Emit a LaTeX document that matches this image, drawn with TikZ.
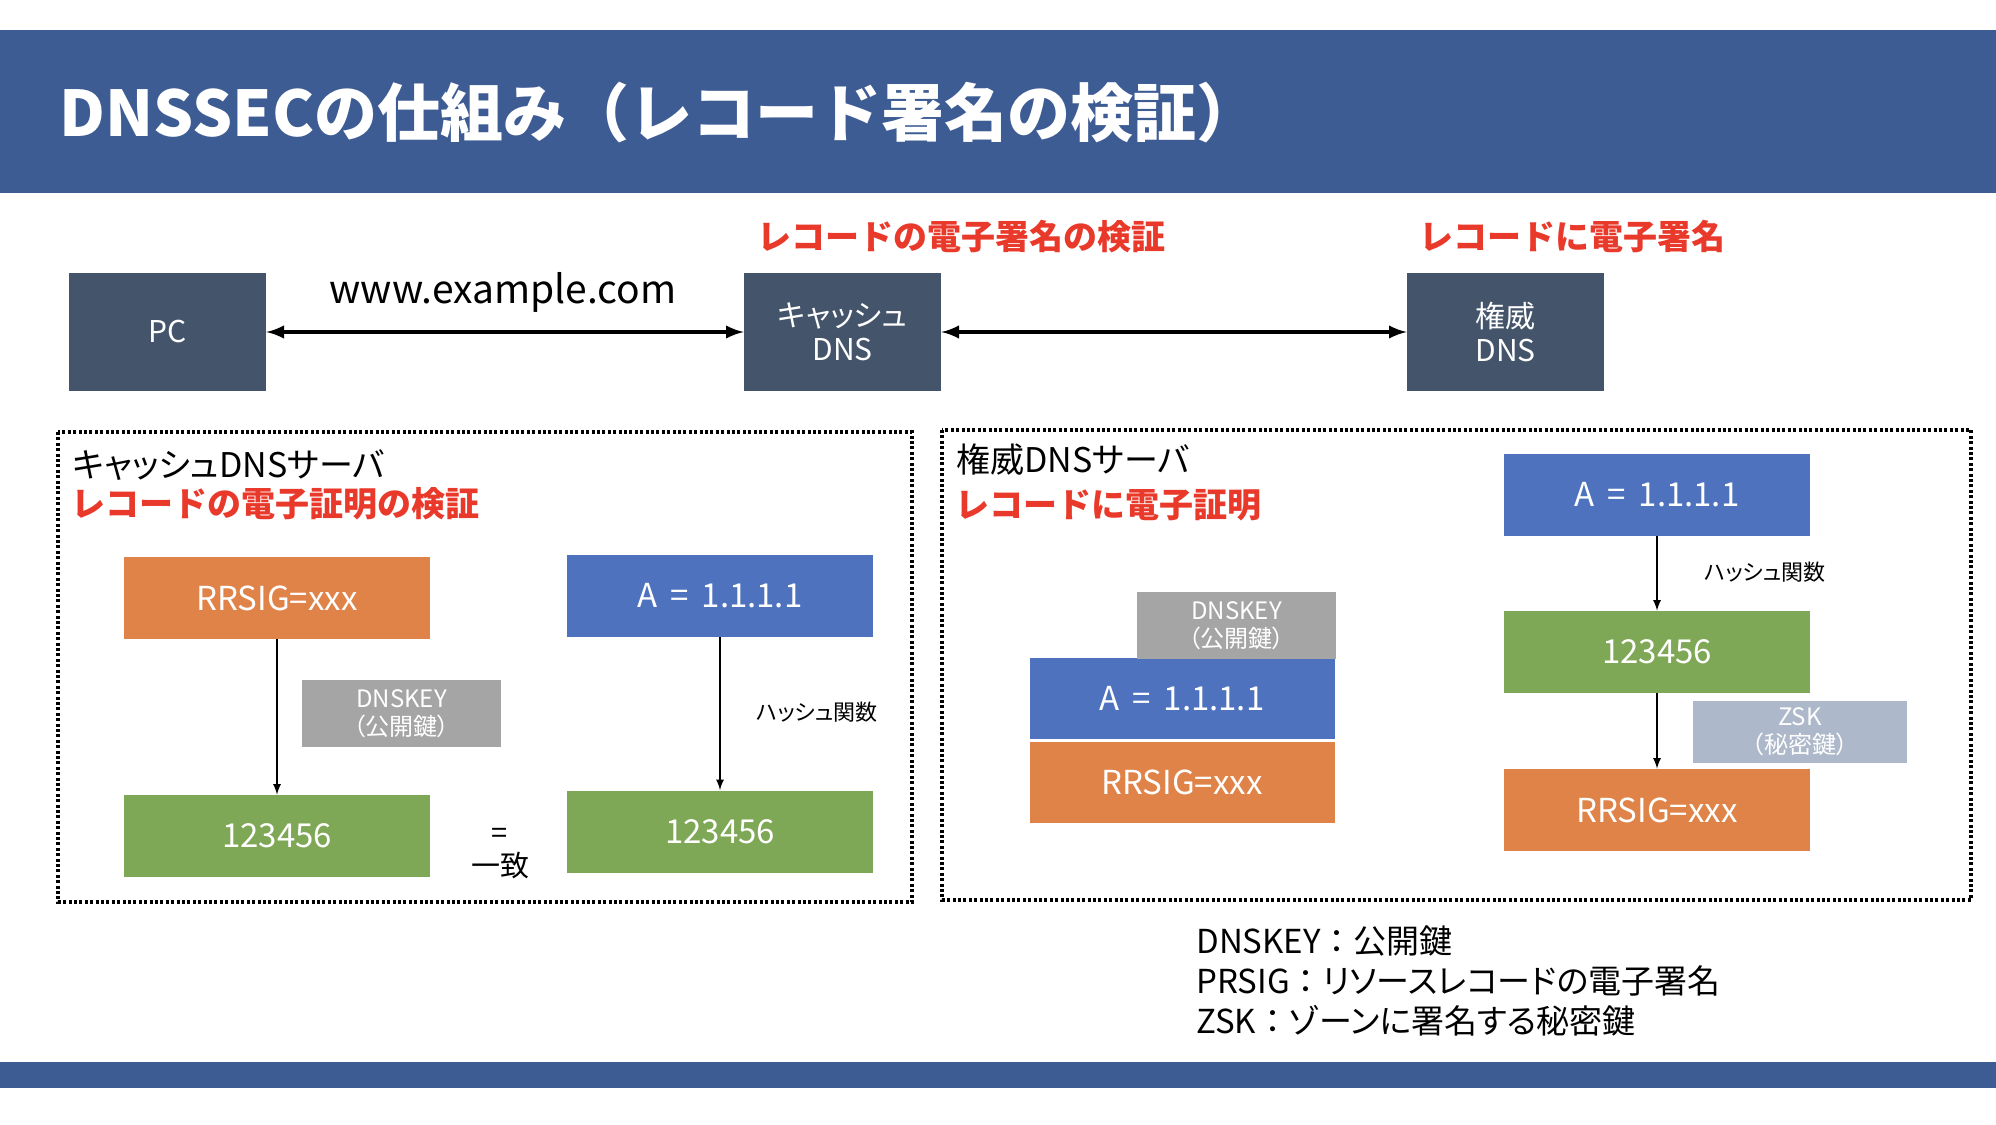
\documentclass[tikz,border=0pt]{standalone}
\usepackage{fontspec}
\setmainfont{Noto Sans CJK JP}
\newfontfamily\uifont[RawFeature=+palt]{Noto Sans CJK JP}
\newfontfamily\fullfont{Noto Sans CJK JP}
\definecolor{titleblue}{RGB}{62,92,148}
\definecolor{hostgray}{RGB}{68,84,106}
\definecolor{recblue}{RGB}{78,114,190}
\definecolor{recorange}{RGB}{224,131,72}
\definecolor{recgreen}{RGB}{127,168,86}
\definecolor{keygray}{RGB}{165,165,165}
\definecolor{zskgray}{RGB}{173,185,202}
\definecolor{alertred}{RGB}{233,57,43}

\begin{document}
\begin{tikzpicture}[x=0.5pt, y=-0.5pt]
 \tikzstyle{host}=[fill=hostgray, text=white, minimum width=98.5pt, minimum height=59pt, inner sep=0pt, align=center, font=\uifont\fontsize{15}{17}\selectfont]
 \tikzstyle{rec}=[text=white, minimum width=153pt, minimum height=41pt, inner sep=0pt, font=\uifont\fontsize{16.5}{19}\selectfont]
 \tikzstyle{keybox}=[text=white, minimum width=99.5pt, minimum height=33.5pt, inner sep=0pt, align=center, font=\uifont\fontsize{12}{14}\selectfont]
 \tikzstyle{link}=[<->, >=latex, line width=2pt]
 \tikzstyle{flow}=[->, >=latex, line width=0.8pt]
 \tikzstyle{frame}=[line width=1.6pt, dash pattern=on 1.5pt off 1.2pt]
 \tikzstyle{alert}=[text=alertred, inner sep=0pt, font=\bfseries\fontsize{17}{20}\selectfont]
 \tikzstyle{head}=[inner sep=0pt, font=\uifont\fontsize{17}{20}\selectfont]
 \tikzstyle{note}=[inner sep=0pt, font=\uifont\fontsize{11}{13}\selectfont]
 \tikzstyle{legend}=[anchor=base west, inner sep=0pt, font=\uifont\fontsize{16.5}{18}\selectfont]
 %
 \useasboundingbox (0,0) rectangle (1996,1124);
 \fill[titleblue] (0,30) rectangle (1996,193);
 \fill[titleblue] (0,1062) rectangle (1996,1088);
 \node[anchor=west, text=white, inner sep=0pt, font=\bfseries\fontsize{31.5}{36}\selectfont] (title) at (59,113) {DNSSECの仕組み（レコード署名の検証）};
 %
 \node[host] (PC) at (167.5,332) {PC};
 \node[host] (cache) at (842.5,332) {キャッシュ\\DNS};
 \node[host] (auth) at (1505.5,332) {権威\\DNS};
 \node[anchor=base, inner sep=0pt, font=\fontsize{19.5}{22}\selectfont] (qname) at (503,303) {www.example.com};
 \node[alert] (verify) at (961.5,237) {レコードの電子署名の検証};
 \node[alert] (sign) at (1572,237) {レコードに電子署名};
 \draw[link] (PC)--(cache);
 \draw[link] (cache)--(auth);
 %
 \draw[frame] (58,432) rectangle (912,902);
 \node[head, anchor=west] (cacheserver) at (72,465) {キャッシュDNSサーバ};
 \node[alert, anchor=west] (cachetask) at (71,504) {レコードの電子証明の検証};
 \node[rec, fill=recorange] (sigL) at (277,598) {RRSIG=xxx};
 \node[rec, fill=recblue] (aL) at (720,596) {A\, = \,1.1.1.1};
 \node[keybox, fill=keygray] (dnskeyL) at (401.5,713.5) {DNSKEY\\（公開鍵）};
 \node[rec, fill=recgreen] (digL) at (277,836) {123456};
 \node[rec, fill=recgreen] (digR) at (720,831.5) {123456};
 \node[note] (hashL) at (817,712) {ハッシュ関数};
 \node[align=center, inner sep=0pt, font=\fontsize{14.5}{16.5}\selectfont] (match) at (500,854) {=\\一致};
 \draw[flow] (sigL)--(digL);
 \draw[flow] (aL)--(digR);
 %
 \draw[frame] (942,430) rectangle (1971,900);
 \node[head, anchor=west] (authserver) at (956,460) {権威DNSサーバ};
 \node[alert, anchor=west] (authtask) at (955,505) {レコードに電子証明};
 \node[rec, fill=recblue, draw=white] (aS) at (1182,698.5) {A\, = \,1.1.1.1};
 \node[rec, fill=recorange, draw=white] (sigS) at (1182,782) {RRSIG=xxx};
 \node[keybox, fill=keygray] (dnskeyR) at (1236.5,625.5) {DNSKEY\\（公開鍵）};
 \node[rec, fill=recblue] (aR) at (1657,495) {A\, = \,1.1.1.1};
 \node[rec, fill=recgreen] (digS) at (1657,652) {123456};
 \node[keybox, fill=zskgray, minimum width=107pt, minimum height=31pt] (zsk) at (1800,732) {ZSK\\（秘密鍵）};
 \node[rec, fill=recorange] (sigR) at (1657,810) {RRSIG=xxx};
 \node[note] (hashR) at (1765,572) {ハッシュ関数};
 \draw[flow] (aR)--(digS);
 \draw[flow] (digS)--(sigR);
 %
 \node[legend] (keynote) at (1196,953) {DNSKEY{\fullfont ：}公開鍵};
 \node[legend] (signote) at (1196,993) {PRSIG{\fullfont ：}リソースレコードの電子署名};
 \node[legend] (zsknote) at (1196,1033) {ZSK{\fullfont ：}ゾーンに署名する秘密鍵};
\end{tikzpicture}
\end{document}
